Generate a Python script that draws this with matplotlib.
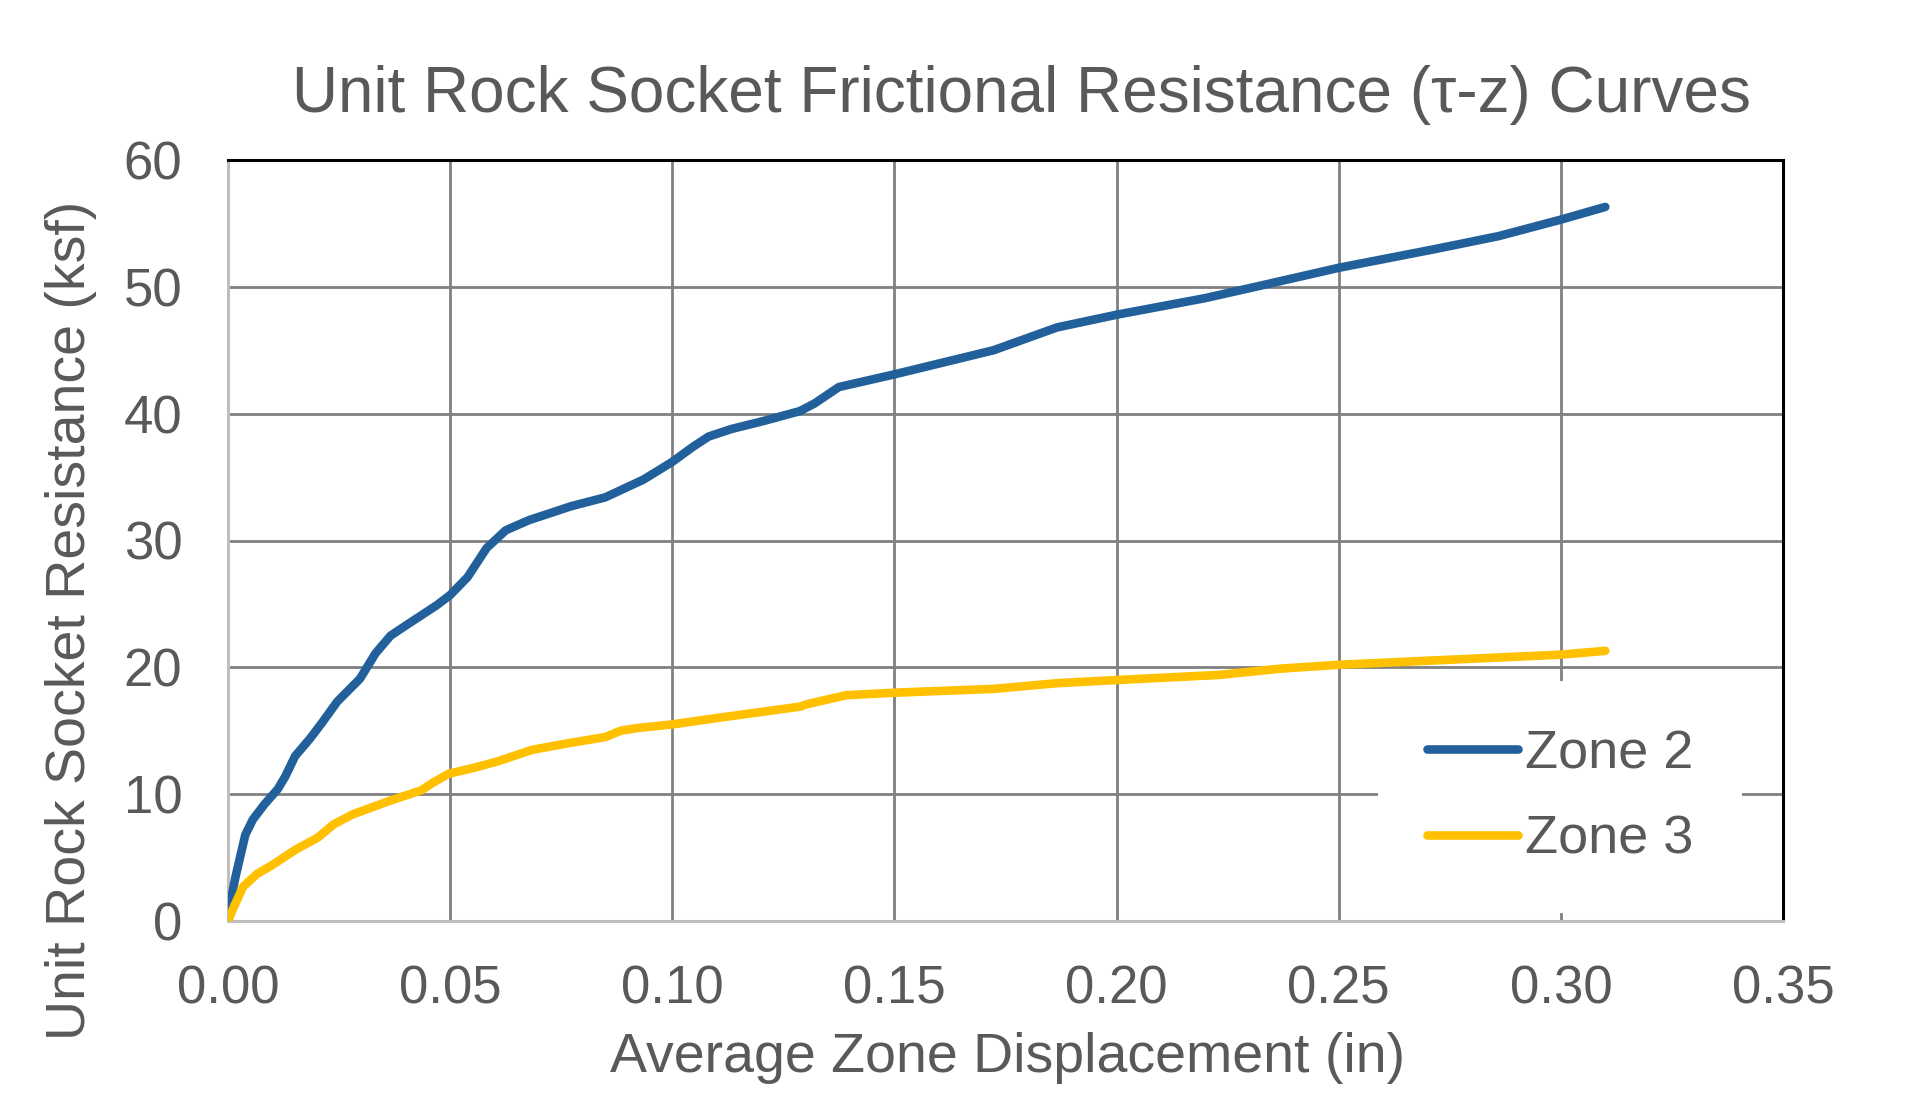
import matplotlib
matplotlib.use("Agg")
import matplotlib.pyplot as plt
from matplotlib.ticker import FormatStrFormatter

plt.rcParams['font.family'] = ['Liberation Sans', 'DejaVu Sans']

zone2_x = [0.000, 0.0017, 0.0039, 0.0056, 0.0082, 0.0112, 0.0129, 0.0151, 0.0185, 0.0211,
           0.0246, 0.0297, 0.0332, 0.0366, 0.0409, 0.047, 0.050, 0.0539, 0.0582, 0.0625,
           0.0677, 0.0772, 0.0849, 0.0935, 0.100, 0.1047, 0.1082, 0.1134, 0.1203, 0.1287,
           0.1320, 0.1375, 0.150, 0.1723, 0.1866, 0.200, 0.2198, 0.2325, 0.250, 0.272,
           0.286, 0.300, 0.310]
zone2_y = [0.5, 3.5, 6.8, 8.0, 9.2, 10.4, 11.4, 13.0, 14.4, 15.6,
           17.3, 19.1, 21.1, 22.5, 23.5, 24.9, 25.7, 27.1, 29.4, 30.8,
           31.6, 32.7, 33.4, 34.8, 36.2, 37.4, 38.2, 38.8, 39.4, 40.2,
           40.8, 42.1, 43.1, 45.0, 46.8, 47.8, 49.1, 50.1, 51.5, 53.0,
           54.0, 55.3, 56.3]

zone3_x = [0.000, 0.0013, 0.0034, 0.0065, 0.0099, 0.0151, 0.0203, 0.0237, 0.028, 0.0366,
           0.0435, 0.0461, 0.0496, 0.0556, 0.0608, 0.0685, 0.0763, 0.0849, 0.0884, 0.0918,
           0.100, 0.110, 0.1287, 0.1304, 0.1391, 0.150, 0.1723, 0.1866, 0.200, 0.223,
           0.237, 0.250, 0.300, 0.310]
zone3_y = [0.0, 1.1, 2.7, 3.7, 4.4, 5.6, 6.6, 7.6, 8.4, 9.5,
           10.3, 10.9, 11.6, 12.1, 12.6, 13.5, 14.0, 14.5, 15.0, 15.2,
           15.5, 16.0, 16.9, 17.1, 17.8, 18.0, 18.3, 18.75, 19.0, 19.4,
           19.9, 20.2, 21.0, 21.3]

x_ticks = [0.00, 0.05, 0.10, 0.15, 0.20, 0.25, 0.30, 0.35]
y_ticks = [0, 10, 20, 30, 40, 50, 60]

TEXT = '#595959'
W, H = 1906, 1094
fig = plt.figure(figsize=(W / 100, H / 100), dpi=100)
ax = fig.add_axes([228 / W, 1 - 921 / H, (1783 - 228) / W, (921 - 160) / H])

ax.plot(zone2_x, zone2_y, color='#22609b', lw=6.2, solid_capstyle='round',
        solid_joinstyle='round', label='Zone 2', zorder=3)
ax.plot(zone3_x, zone3_y, color='#ffc000', lw=6.2, solid_capstyle='round',
        solid_joinstyle='round', label='Zone 3', zorder=3)

ax.set_xlim(0, 0.35)
ax.set_ylim(0, 60)
ax.set_xticks(x_ticks)
ax.set_yticks(y_ticks)
ax.xaxis.set_major_formatter(FormatStrFormatter('%.2f'))
ax.grid(True, color='#808080', lw=2, zorder=0)
ax.set_axisbelow(True)
ax.tick_params(length=0, labelsize=38, labelcolor=TEXT)
ax.tick_params(axis='x', pad=31)
ax.tick_params(axis='y', pad=33)

for s in ['left', 'bottom']:
    ax.spines[s].set_color('#bfbfbf')
    ax.spines[s].set_linewidth(2.2)
for s in ['top', 'right']:
    ax.spines[s].set_color('black')
    ax.spines[s].set_linewidth(2.2)

fig.text(1021 / W, 1 - 95 / H, 'Unit Rock Socket Frictional Resistance (τ-z) Curves',
         ha='center', va='center', fontsize=46, color=TEXT)
fig.text(1008 / W, 1 - 1058 / H, 'Average Zone Displacement (in)',
         ha='center', va='center', fontsize=40, color=TEXT)
fig.text(71 / W, 1 - 620 / H, 'Unit Rock Socket Resistance (ksf)',
         ha='center', va='center', rotation=90, fontsize=40, color=TEXT)

leg = ax.legend(loc='center', bbox_to_anchor=(1560 / W, 1 - 797 / H),
                bbox_transform=fig.transFigure, fontsize=39, frameon=True,
                facecolor='white', edgecolor='none', framealpha=1, fancybox=False,
                handlelength=1.68, handletextpad=0.12, labelspacing=0.65, borderpad=0.9)
for t in leg.get_texts():
    t.set_color(TEXT)

fig.savefig('out.png', dpi=100)
